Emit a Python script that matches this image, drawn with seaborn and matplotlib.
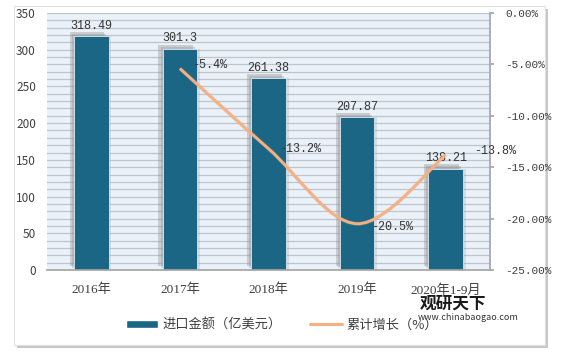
import numpy as np
import pandas as pd
import matplotlib
matplotlib.use('Agg')
import matplotlib.pyplot as plt
import matplotlib.patheffects as pe
from matplotlib.path import Path
from matplotlib.patches import PathPatch, Rectangle
from matplotlib.lines import Line2D
import seaborn as sns

# data
years = ['2016年', '2017年', '2018年', '2019年', '2020年1-9月']
amount = [318.49, 301.3, 261.38, 207.87, 138.21]
growth_years = ['2017年', '2018年', '2019年', '2020年1-9月']
growth = [-5.4, -13.2, -20.5, -13.8]
amount_labels = ['318.49', '301.3', '261.38', '207.87', '138.21']
growth_labels = ['-5.4%', '-13.2%', '-20.5%', '-13.8%']

bar_color = '#1B6585'
line_color = '#F4B183'

sns.set_theme(style='white')
plt.rcParams['font.family'] = ['Noto Sans CJK SC', 'DejaVu Sans']
mono = ['Liberation Mono', 'DejaVu Sans']
serif = ['Liberation Serif', 'Noto Sans CJK SC']

df = pd.DataFrame({'year': years, 'amount': amount})

fig = plt.figure(figsize=(5.61, 3.52), dpi=100)
# outer frame with shadow
frame = Rectangle((14 / 561, 7 / 352), 531 / 561, 339 / 352, transform=fig.transFigure,
                  facecolor='white', edgecolor='#E0E0E0', lw=0.8, zorder=-5,
                  path_effects=[pe.withSimplePatchShadow(offset=(2.5, -2.5), shadow_rgbFace='#999999', alpha=0.55)])
fig.patches.append(frame)

ax = fig.add_axes([47 / 561, 82 / 352, 443 / 561, 257 / 352])
ax.set_facecolor('#EAF1F8')
ax.set_ylim(0, 350)
ax.set_yticks(np.arange(0, 351, 50))
for yv in np.arange(10, 351, 10):
    ax.axhline(yv, color='#BFC5CC', lw=0.9, zorder=0.5)

sns.barplot(data=df, x='year', y='amount', color=bar_color, width=0.39, ax=ax,
            saturation=1, zorder=2)
for p in ax.patches:
    p.set_edgecolor('#DDE6EE')
    p.set_linewidth(0.6)
    p.set_path_effects([
        pe.withSimplePatchShadow(offset=(-3, 3), shadow_rgbFace='#8C8C8C', alpha=0.35),
        pe.withSimplePatchShadow(offset=(-1.5, 1.5), shadow_rgbFace='#8C8C8C', alpha=0.3),
        pe.withSimplePatchShadow(offset=(2, 0), shadow_rgbFace='#8C8C8C', alpha=0.2),
        pe.Normal()])

for i, (v, t) in enumerate(zip(amount, amount_labels)):
    ax.text(i, v + 6, t, ha='center', va='bottom', fontsize=8.5, color='#333333',
            family=mono, zorder=5)

ax.set_xlabel('')
ax.set_ylabel('')
ax.set_xlim(-0.5, 4.5)
ax.tick_params(axis='x', labelsize=9.5, colors='#404040', length=0, pad=10)
ax.tick_params(axis='y', labelsize=8.5, colors='#404040', length=0, pad=8)
for lab in ax.get_xticklabels():
    lab.set_family(serif)
for s in ['top', 'left', 'right']:
    ax.spines[s].set_visible(False)
ax.spines['bottom'].set_color('#A6A6A6')

ax2 = ax.twinx()
ax2.set_ylim(-25, 0)
ax2.set_yticks(np.arange(-25, 0.1, 5))
ax2.set_yticklabels(['%.2f%%' % v for v in np.arange(-25, 0.1, 5)], family=mono)
ax2.tick_params(axis='y', labelsize=8, colors='#404040', length=3, pad=8)
ax2.tick_params(axis='y', color='#A6A6A6')
for s in ['top', 'left', 'bottom']:
    ax2.spines[s].set_visible(False)
ax2.spines['right'].set_color('#A6A6A6')

# smooth line through the growth points (cubic bezier segments)
gx = np.array([years.index(y) for y in growth_years], dtype=float)
gy = np.array(growth)
verts = [(gx[0], gy[0])]
codes = [Path.MOVETO]
n = len(gx)
for i in range(n - 1):
    p0 = np.array([gx[max(i - 1, 0)], gy[max(i - 1, 0)]])
    p1 = np.array([gx[i], gy[i]])
    p2 = np.array([gx[i + 1], gy[i + 1]])
    p3 = np.array([gx[min(i + 2, n - 1)], gy[min(i + 2, n - 1)]])
    c1 = p1 + (p2 - p0) / 6
    c2 = p2 - (p3 - p1) / 6
    verts += [tuple(c1), tuple(c2), tuple(p2)]
    codes += [Path.CURVE4] * 3
curve = PathPatch(Path(verts, codes), facecolor='none', edgecolor=line_color, lw=2.0,
                  zorder=4, path_effects=[pe.withStroke(linewidth=2.8, foreground='#E8A37A', alpha=0.35)])
ax2.add_patch(curve)

label_dx = [0.14, 0.12, 0.16, 0.32]
label_dy = [0.3, 0.0, -0.3, 0.4]
for x0, y0, t, dx, dy in zip(gx, gy, growth_labels, label_dx, label_dy):
    ax2.text(x0 + dx, y0 + dy, t, ha='left', va='center', fontsize=8.5, color='#333333',
             family=mono, zorder=5)

# legend
handles = [Rectangle((0, 0), 1, 1, facecolor=bar_color),
           Line2D([0], [0], color=line_color, lw=2.2)]
fig.legend(handles, ['进口金额（亿美元）', '累计增长（%）'], loc='center',
           bbox_to_anchor=(282 / 561, 1 - 325 / 352), ncol=2, frameon=False, fontsize=9.5,
           handlelength=2.4, handleheight=0.5, handletextpad=0.3, columnspacing=2.2,
           labelcolor='#404040')

# watermark
fig.text(420 / 561, 1 - 304 / 352, '观研天下', fontsize=12, fontweight='bold', color='#1a1a1a',
         ha='left', va='center')
fig.text(418 / 561, 1 - 317 / 352, 'www.chinabaogao.com', fontsize=6.5, color='#333333',
         ha='left', va='center')

fig.savefig('out.png', dpi=100)
